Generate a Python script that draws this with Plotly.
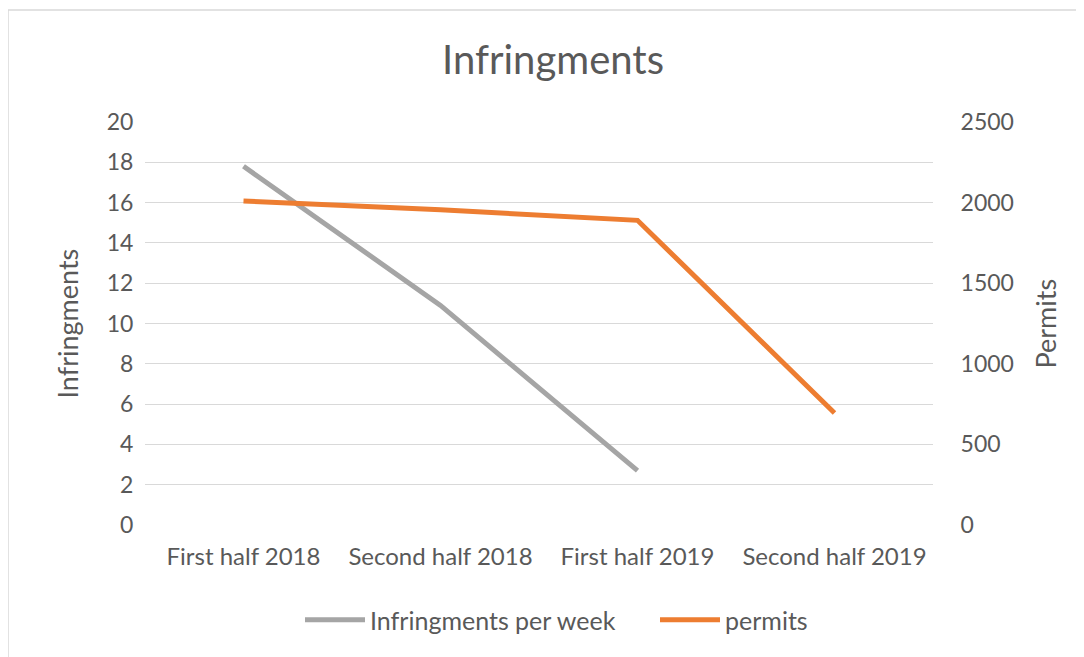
import plotly.graph_objects as go

categories = ["First half 2018", "Second half 2018", "First half 2019", "Second half 2019"]
infringements = [17.8, 10.9, 2.7, None]
permits = [2010, 1955, 1890, 695]
left_ticks = list(range(0, 21, 2))
right_ticks = list(range(0, 2501, 500))

FONT = "Lato"
TXT = "#595959"
OFF = 8  # page body margin offset

L, T, PW, PH = 145 - OFF, 122 - OFF, 788, 403


def px_x(p):
    return (p - 145) / PW


fig = go.Figure()
fig.add_trace(go.Scatter(x=categories, y=infringements, mode="lines",
                         name="Infringments per week",
                         line=dict(color="#a5a5a5", width=5), yaxis="y", legend="legend"))
fig.add_trace(go.Scatter(x=categories, y=permits, mode="lines",
                         name="permits",
                         line=dict(color="#ed7d31", width=5), yaxis="y2", legend="legend2"))

leg_y = (525 - 620) / PH
fig.update_layout(
    width=1084, height=657,
    margin=dict(l=L, r=1084 - L - PW, t=T, b=657 - T - PH),
    paper_bgcolor="white", plot_bgcolor="white",
    font=dict(family=FONT, color=TXT, size=24),
    title=dict(text="Infringments", x=(553 - OFF) / 1084, xref="container", xanchor="center",
               y=1 - (60 - OFF) / 657, yref="container", yanchor="middle",
               font=dict(size=40, color=TXT, family=FONT)),
    xaxis=dict(type="category", range=[-0.5, 3.5], showgrid=False, showline=False,
               ticks="outside", ticklen=10, tickcolor="rgba(0,0,0,0)",
               tickfont=dict(size=24, color=TXT)),
    yaxis=dict(range=[0, 20], tickvals=left_ticks, showgrid=True, gridcolor="#d9d9d9",
               gridwidth=1, zeroline=False, showline=False,
               ticks="outside", ticklen=6, tickcolor="rgba(0,0,0,0)",
               tickfont=dict(size=23, color=TXT)),
    yaxis2=dict(range=[0, 2500], tickvals=right_ticks, overlaying="y", side="right",
                showgrid=False, zeroline=False, showline=False,
                ticks="outside", ticklen=22, tickcolor="rgba(0,0,0,0)",
                tickfont=dict(size=23, color=TXT)),
    legend=dict(orientation="h", x=px_x(300), xanchor="left",
                y=leg_y, yanchor="middle", itemwidth=60,
                font=dict(size=25, color=TXT), bgcolor="rgba(0,0,0,0)"),
    legend2=dict(orientation="h", x=px_x(655), xanchor="left",
                 y=leg_y, yanchor="middle", itemwidth=60,
                 font=dict(size=25, color=TXT), bgcolor="rgba(0,0,0,0)"),
    showlegend=True,
    annotations=[
        dict(text="Infringments", xref="paper", yref="paper", x=(67 - 145) / PW, y=0.5,
             textangle=-90, showarrow=False, xanchor="center", yanchor="middle",
             font=dict(size=27, color=TXT, family=FONT)),
        dict(text="Permits", xref="paper", yref="paper", x=(1045 - 145) / PW, y=0.5,
             textangle=-90, showarrow=False, xanchor="center", yanchor="middle",
             font=dict(size=27, color=TXT, family=FONT)),
    ],
    shapes=[
        dict(type="rect", xref="paper", yref="paper",
             x0=(8 - 145) / PW, y0=(525 - 10) / PH, x1=1.5, y1=-0.6,
             line=dict(color="#d9d9d9", width=1.5), layer="below"),
    ],
)

fig.write_html("out.html")
